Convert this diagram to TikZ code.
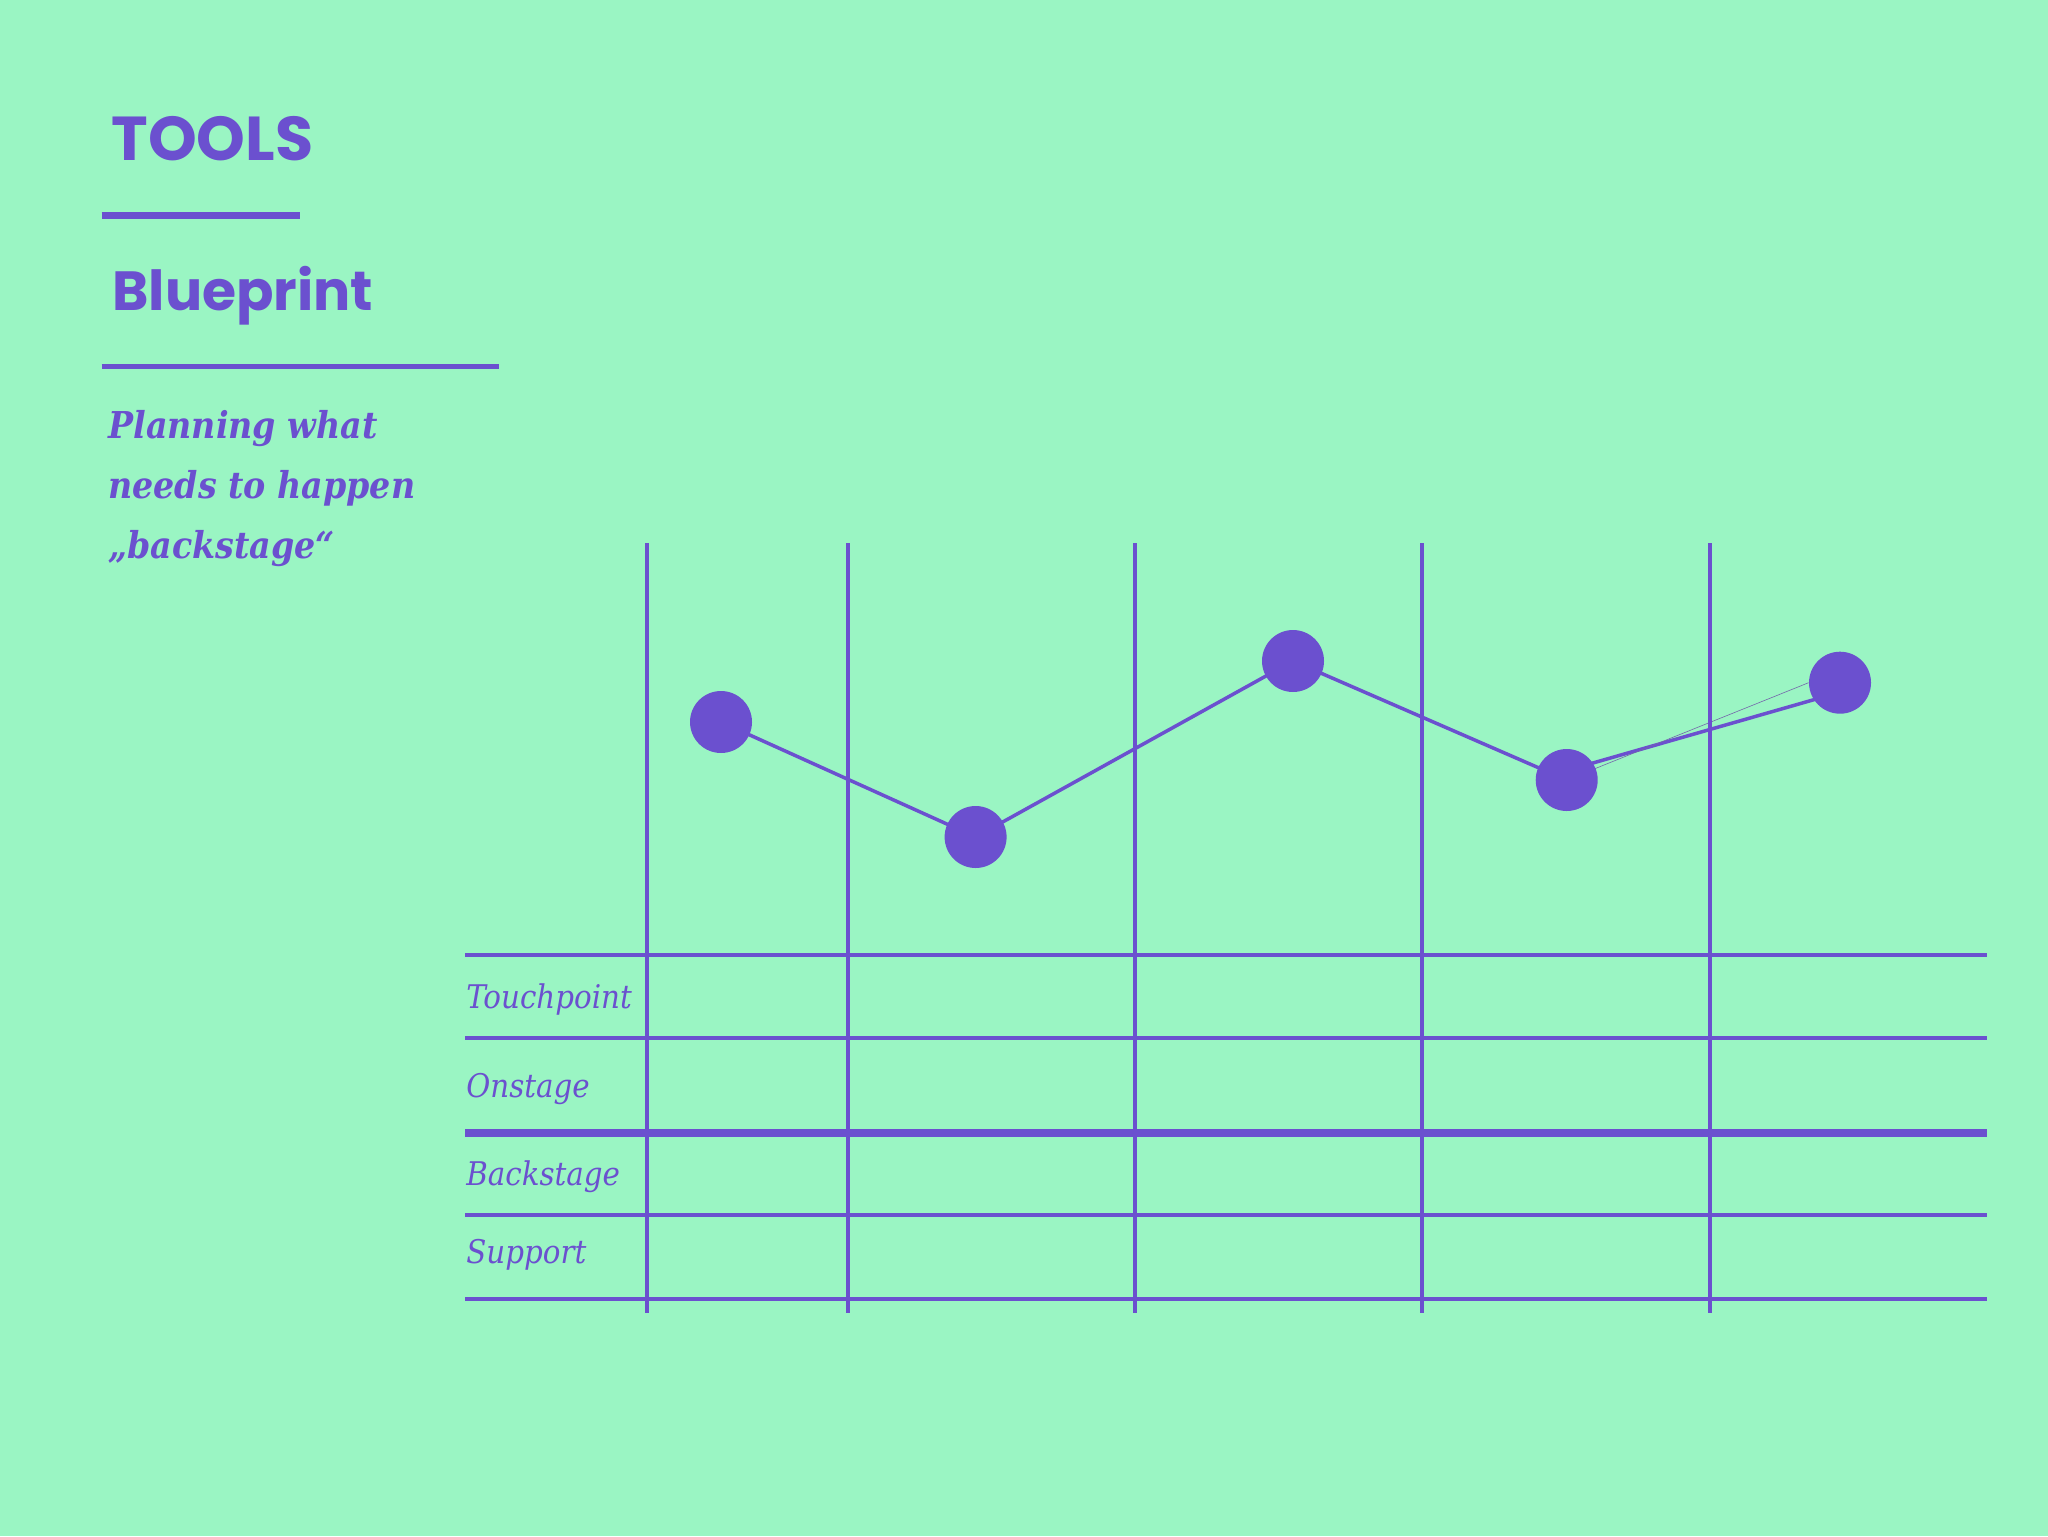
\documentclass[tikz,border=0pt]{standalone}
\usepackage{fontspec}
\usetikzlibrary{backgrounds}
\setmainfont{DejaVu Serif}
\newfontfamily\headfont{Poppins}
\newfontfamily\serifcond{DejaVu Serif Condensed}
\definecolor{bgc}{HTML}{9AF5C3}
\definecolor{pur}{HTML}{6B50CF}
\tikzset{
  grid/.style={draw=pur, line width=2pt, line cap=butt},
  gridthick/.style={draw=pur, line width=4pt, line cap=butt},
  dot/.style={circle, fill=pur, minimum size=31pt, inner sep=0pt},
  link/.style={draw=pur, line width=1.75pt},
  hair/.style={draw=pur!55!gray, line width=0.3pt},
  head/.style={anchor=base west, inner sep=0pt, text=pur, font=\headfont\bfseries},
  sub/.style={anchor=base west, inner sep=0pt, text=pur, font=\serifcond\bfseries\itshape\fontsize{18.5}{22}\selectfont},
  rowlab/.style={anchor=base west, inner sep=0pt, text=pur, font=\serifcond\itshape\fontsize{16.3}{19}\selectfont},
}
\begin{document}
\begin{tikzpicture}[x=0.5pt,y=-0.5pt]
\useasboundingbox (0,0) rectangle (2048,1536);
% header
\node[head, font=\headfont\bfseries\fontsize{31}{36}\selectfont] (tools) at (111,160) {TOOLS};
\draw[draw=pur, line width=3.85pt] (101.7,215.5) coordinate (u1a) -- (300,215.5) coordinate (u1b);
\node[head, font=\headfont\bfseries\fontsize{27.6}{33}\selectfont] (blue) at (112,310) {Blueprint};
\draw[draw=pur, line width=2.35pt] (101.7,366.3) coordinate (u2a) -- (499.3,366.3) coordinate (u2b);
\node[sub] (s1) at (108,438) {Planning what};
\node[sub] (s2) at (108,498) {needs to happen};
\node[sub] (s3) at (108,558) {„backstage“};
% grid vertical
\foreach \x [count=\i] in {646.5,847.6,1135,1422.3,1709.6}{
  \coordinate (vt\i) at (\x,543);
  \coordinate (vb\i) at (\x,1313);
  \draw[grid] (vt\i) -- (vb\i);
}
% grid horizontal
\foreach \y [count=\i] in {955,1038,1215,1299}{
  \coordinate (hl\i) at (465,\y);
  \coordinate (hr\i) at (1987,\y);
  \draw[grid] (hl\i) -- (hr\i);
}
\coordinate (hlt) at (465,1133.3);
\coordinate (hrt) at (1987,1133.3);
\draw[gridthick] (hlt) -- (hrt);
% row labels
\node[rowlab] (touch) at (466,1008) {Touchpoint};
\node[rowlab] (on) at (466,1097) {Onstage};
\node[rowlab] (back) at (466,1185) {Backstage};
\node[rowlab] (supp) at (466,1263) {Support};
% dots
\node[dot] (d1) at (721,722) {};
\node[dot] (d2) at (975.6,837) {};
\node[dot] (d3) at (1293,661) {};
\node[dot] (d4) at (1566.7,780) {};
\node[dot] (d5) at (1840,682.7) {};
\begin{scope}[on background layer]
\fill[bgc] (0,0) rectangle (2048,1536);
\draw[link] (d1.center) -- (d2.center);
\draw[link] (d2.center) -- (d3.center);
\draw[link] (d3.center) -- (d4.center);
\draw[link] ([yshift=4.75pt]d4.center) -- ([yshift=-4.75pt]d5.center);
\draw[hair] (d4.center) -- (d5.west);
\end{scope}
\end{tikzpicture}
\end{document}
